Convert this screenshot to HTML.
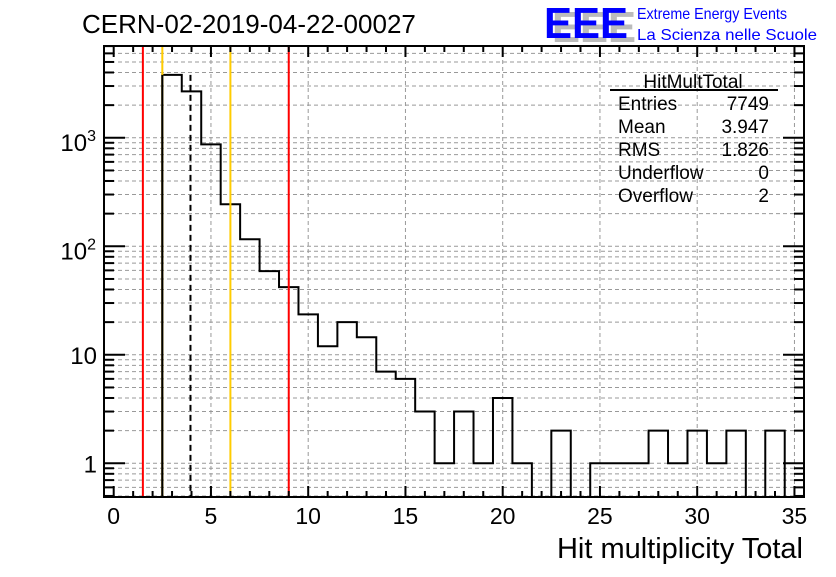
<!DOCTYPE html>
<html><head><meta charset="utf-8"><style>
body{margin:0;background:#fff;width:836px;height:572px;overflow:hidden}
svg text{font-family:"Liberation Sans",sans-serif}
</style></head><body>
<svg id="c" width="836" height="572" xmlns="http://www.w3.org/2000/svg"></svg>
<script>
const binCenters=[3,4,5,6,7,8,9,10,11,12,13,14,15,16,17,18,19,20,21,22,23,24,25,26,27,28,29,30,31,32,33,34];
const binValues=[3800,2680,870,244,116,59,42,23.6,12,20,14.5,7,6,3,1,3,1,4,1,0,2,0,1,1,1,2,1,2,1,2,0,2];
const xTicks=[0,5,10,15,20,25,30,35];
const yTicks=[1,10,100,1000];
const yTickLabels=["1","10","10²","10³"];
const redLines=[1.5,9];
const yellowLines=[2.5,6];
const meanLine=[3.947];
const statsLabels=["Entries","Mean","RMS","Underflow","Overflow"];
const statsValues=["7749","3.947","1.826","0","2"];

const NS="http://www.w3.org/2000/svg";
const svg=document.getElementById('c');
const L=104,R=804,T=46,B=497;
const X=v=>113.7+(v)*19.45;
const Y=v=>463.3-Math.log10(v)*108.5;
const YB=v=>v<=0?B:Math.min(B,Y(v));
function el(n,a,p){const e=document.createElementNS(NS,n);for(const k in a)e.setAttribute(k,a[k]);(p||svg).appendChild(e);return e;}

const grid=el('g',{});


xTicks.forEach(t=>{if(t>0)el('line',{x1:X(t),x2:X(t),y1:T,y2:B,stroke:'#999','stroke-dasharray':'4,3','stroke-width':1},grid);});
for(let d=-1;d<4;d++)for(let m=1;m<10;m++){const v=m*Math.pow(10,d);const y=Y(v);if(y<T||y>B)continue;
 el('line',{x1:L,x2:R,y1:y,y2:y,stroke:'#999','stroke-dasharray':'4,3','stroke-width':1},grid);}

let d=`M${X(binCenters[0]-0.5)},${B}`;
binCenters.forEach((c,i)=>{const y=YB(binValues[i]);d+=` L${X(c-0.5)},${y} L${X(c+0.5)},${y}`;});
d+=` L${X(binCenters[binCenters.length-1]+0.5)},${B}`;
const h=el('path',{d:d,fill:'none',stroke:'#000','stroke-width':2});



redLines.forEach(v=>{const e=el('line',{x1:X(v),x2:X(v),y1:T,y2:B,stroke:'#f00','stroke-width':2});

});
yellowLines.forEach(v=>{const e=el('line',{x1:X(v),x2:X(v),y1:T,y2:B,stroke:'#fc0','stroke-width':2});

});
el('line',{x1:X(2.5),x2:X(2.5),y1:YB(binValues[0]),y2:B,stroke:'#000','stroke-width':2});
meanLine.forEach(v=>{const e=el('line',{x1:X(v),x2:X(v),y1:YB(binValues[0]),y2:B,stroke:'#000','stroke-width':2,'stroke-dasharray':'6,4'});

});

const fr=el('rect',{x:L,y:T,width:R-L,height:B-T,fill:'none',stroke:'#000','stroke-width':2});



for(let t=0;t<=35;t++){const len=t%5==0?11:6;
 el('line',{x1:X(t),x2:X(t),y1:B,y2:B-len,stroke:'#000','stroke-width':2});
 el('line',{x1:X(t),x2:X(t),y1:T,y2:T+len,stroke:'#000','stroke-width':2});}
xTicks.forEach(t=>{const e=el('text',{x:X(t),y:524,'font-size':23,'text-anchor':'middle'});e.textContent=t;
 
 });
for(let dd=-1;dd<4;dd++)for(let m=1;m<10;m++){const v=m*Math.pow(10,dd);const y=Y(v);if(y<T||y>B)continue;
 const len=m==1?21:10;
 el('line',{x1:L,x2:L+len,y1:y,y2:y,stroke:'#000','stroke-width':2});
 el('line',{x1:R,x2:R-len,y1:y,y2:y,stroke:'#000','stroke-width':2});}
yTicks.forEach((t,i)=>{const e=el('text',{x:97,y:Y(t)+9,'font-size':24,'text-anchor':'end'});
 const lab=yTickLabels[i];
 if(lab.endsWith('²')||lab.endsWith('³')){e.textContent='10';const s=el('tspan',{dy:-10,'font-size':16},e);s.textContent=lab.endsWith('²')?'2':'3';e.setAttribute('x',96);e.setAttribute('y',Y(t)+13);}
 else e.textContent=lab;
 
 });

const xt=el('text',{x:803,y:558,'font-size':29,'text-anchor':'end'});xt.textContent='Hit multiplicity Total';


const tt=el('text',{x:82,y:33,'font-size':26});tt.textContent='CERN-02-2019-04-22-00027';


const lg=el('g',{});


const sh=el('text',{x:552,y:42,'font-size':44,fill:'#bbb','font-weight':'bold',textLength:84,lengthAdjust:'spacingAndGlyphs'},lg);sh.textContent='EEE';
const lt=el('text',{x:544,y:38,'font-size':44,fill:'#00f','font-weight':'bold',textLength:84,lengthAdjust:'spacingAndGlyphs'},lg);lt.textContent='EEE';
const l1=el('text',{x:637,y:19,'font-size':16,fill:'#00f',textLength:150,lengthAdjust:'spacingAndGlyphs'},lg);l1.textContent='Extreme Energy Events';
const l2=el('text',{x:637,y:40,'font-size':16,fill:'#00f',textLength:180,lengthAdjust:'spacingAndGlyphs'},lg);l2.textContent='La Scienza nelle Scuole';
const st=el('g',{});


const sT=el('text',{x:693,y:88,'font-size':19,'text-anchor':'middle'},st);sT.textContent='HitMultTotal';
el('line',{x1:610,x2:778,y1:90,y2:90,stroke:'#000','stroke-width':2},st);
statsLabels.forEach((s,i)=>{const y=110+i*23;
 const a=el('text',{x:618,y:y,'font-size':19},st);a.textContent=s;
 const b=el('text',{x:769,y:y,'font-size':19,'text-anchor':'end'},st);b.textContent=statsValues[i];});
</script>
</body></html>
